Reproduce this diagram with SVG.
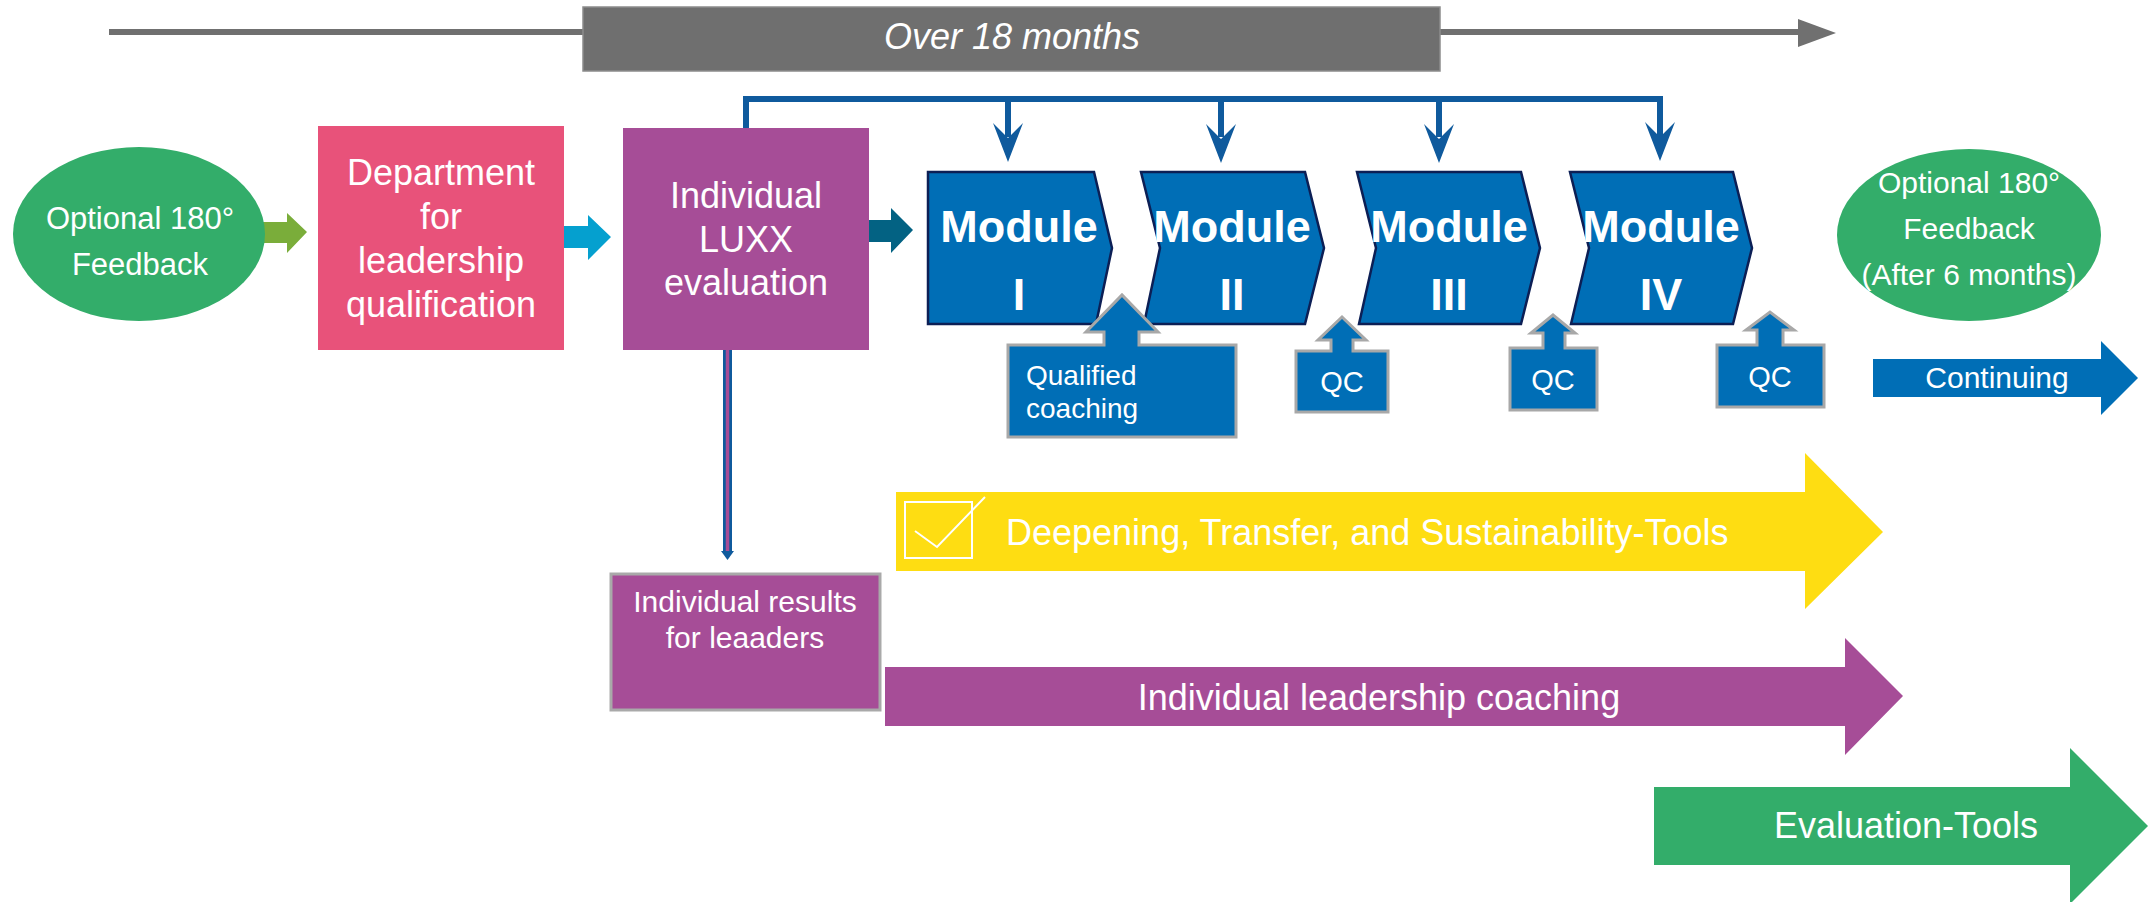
<svg xmlns="http://www.w3.org/2000/svg" width="2153" height="902" viewBox="0 0 2153 902">
<style>
text{font-family:"Liberation Sans",Arial,sans-serif;fill:#ffffff}
.c{text-anchor:middle}
.mod{fill:#006eb6;stroke:#0c1f55;stroke-width:2.5}
.mt{font-weight:bold;font-size:45px}
.call{fill:#006eb6;stroke:#a8a8a8;stroke-width:3}
.br{stroke:#0f5a9d;stroke-width:6;fill:none}
.ah{fill:#0f5a9d}
</style>
<rect width="2153" height="902" fill="#ffffff"/>

<g id="timeline">
<line x1="109" y1="32" x2="1800" y2="32" stroke="#707070" stroke-width="6"/>
<polygon points="1798,19 1836,33 1798,47" fill="#707070"/>
<rect x="583" y="7" width="857" height="64" fill="#6f6f6f" stroke="#8c8c8c" stroke-width="1.5"/>
<text x="1012" y="49" class="c" font-size="36" font-style="italic">Over 18 months</text>
</g>

<g id="connectors">
<polyline class="br" points="746,128 746,99 1660,99 1660,137"/>
<line class="br" x1="1008" y1="99" x2="1008" y2="137"/>
<line class="br" x1="1221" y1="99" x2="1221" y2="137"/>
<line class="br" x1="1439" y1="99" x2="1439" y2="137"/>
<polygon class="ah" points="993,123 1008,162 1023,123 1008,138"/>
<polygon class="ah" points="1206,124 1221,163 1236,124 1221,139"/>
<polygon class="ah" points="1424,124 1439,163 1454,124 1439,139"/>
<polygon class="ah" points="1645,122 1660,161 1675,122 1660,137"/>
<line x1="727.5" y1="350" x2="727.5" y2="553" stroke="#0f5a9d" stroke-width="9"/>
<line x1="727.5" y1="350" x2="727.5" y2="553" stroke="#a64d97" stroke-width="3.5"/>
<polygon points="721,551 734,551 727.5,560" fill="#0f5a9d"/>
<polygon points="249,222 287,222 287,213 307,232 287,253 287,243 249,243" fill="#7aad3a"/>
<polygon points="553,226 588,226 588,215 611,237 588,260 588,248 553,248" fill="#05a0cf"/>
<polygon points="855,220 891,220 891,208 913,230 891,253 891,242 855,242" fill="#036283"/>
</g>

<g id="feedback-start">
<ellipse cx="139" cy="234" rx="126" ry="87" fill="#33ad6a"/>
<text x="140" y="229" class="c" font-size="31">Optional 180°</text>
<text x="140" y="275" class="c" font-size="31">Feedback</text>
</g>

<g id="department">
<rect x="318" y="126" width="246" height="224" fill="#e8527a"/>
<text x="441" y="185" class="c" font-size="36">Department</text>
<text x="441" y="229" class="c" font-size="36">for</text>
<text x="441" y="273" class="c" font-size="36">leadership</text>
<text x="441" y="317" class="c" font-size="36">qualification</text>
</g>

<g id="luxx">
<rect x="623" y="128" width="246" height="222" fill="#a64d97"/>
<text x="746" y="208" class="c" font-size="36">Individual</text>
<text x="746" y="252" class="c" font-size="36">LUXX</text>
<text x="746" y="295" class="c" font-size="36">evaluation</text>
</g>

<g id="module1">
<polygon class="mod" points="928,172 1094,172 1112,248 1096,324 928,324"/>
<text x="1019" y="242" class="c mt">Module</text>
<text x="1019" y="310" class="c mt">I</text>
</g>
<g id="module2">
<polygon class="mod" points="1141,172 1305,172 1324,248 1305,324 1144,324 1160,248"/>
<text x="1232" y="242" class="c mt">Module</text>
<text x="1232" y="310" class="c mt">II</text>
</g>
<g id="module3">
<polygon class="mod" points="1357,172 1521,172 1540,248 1521,324 1359,324 1376,248"/>
<text x="1449" y="242" class="c mt">Module</text>
<text x="1449" y="310" class="c mt">III</text>
</g>
<g id="module4">
<polygon class="mod" points="1570,172 1733,172 1752,248 1733,324 1571,324 1589,248"/>
<text x="1661" y="242" class="c mt">Module</text>
<text x="1661" y="310" class="c mt">IV</text>
</g>

<g id="qualified-coaching">
<path class="call" d="M1008,345 H1104 V332 H1086 L1122,295 L1158,332 H1139 V345 H1236 V437 H1008 Z"/>
<text x="1026" y="385" font-size="28">Qualified</text>
<text x="1026" y="418" font-size="28">coaching</text>
</g>
<g id="qc1">
<path class="call" d="M1296,351 H1331 V340 H1318 L1342,317 L1366,340 H1353 V351 H1388 V412 H1296 Z"/>
<text x="1342" y="392" class="c" font-size="29">QC</text>
</g>
<g id="qc2">
<path class="call" d="M1510,348 H1543 V333 H1531 L1553,315 L1575,333 H1565 V348 H1597 V410 H1510 Z"/>
<text x="1553" y="390" class="c" font-size="29">QC</text>
</g>
<g id="qc3">
<path class="call" d="M1717,345 H1757 V330 H1746 L1770,312 L1794,330 H1783 V345 H1824 V407 H1717 Z"/>
<text x="1770" y="387" class="c" font-size="29">QC</text>
</g>

<g id="feedback-end">
<ellipse cx="1969" cy="235" rx="132" ry="86" fill="#33ad6a"/>
<text x="1969" y="193" class="c" font-size="30">Optional 180°</text>
<text x="1969" y="239" class="c" font-size="30">Feedback</text>
<text x="1969" y="285" class="c" font-size="30">(After 6 months)</text>
</g>

<g id="continuing">
<polygon points="1873,359 2101,359 2101,341 2138,378 2101,415 2101,397 1873,397" fill="#006eb6"/>
<text x="1997" y="388" class="c" font-size="30">Continuing</text>
</g>

<g id="deepening">
<polygon points="896,492 1805,492 1805,453 1883,532 1805,609 1805,571 896,571" fill="#fedd12"/>
<rect x="905" y="502" width="67" height="56" fill="none" stroke="#ffffff" stroke-width="2"/>
<polyline points="915,531 937,547 985,497" fill="none" stroke="#ffffff" stroke-width="2"/>
<text x="1006" y="545" font-size="36">Deepening, Transfer, and Sustainability-Tools</text>
</g>

<g id="results">
<rect x="611" y="574" width="269" height="136" fill="#a64d97" stroke="#a9a9a9" stroke-width="3"/>
<text x="745" y="612" class="c" font-size="30">Individual results</text>
<text x="745" y="648" class="c" font-size="30">for leaaders</text>
</g>

<g id="coaching">
<polygon points="885,667 1845,667 1845,638 1903,696 1845,755 1845,726 885,726" fill="#a64d97"/>
<text x="1379" y="710" class="c" font-size="36">Individual leadership coaching</text>
</g>

<g id="evaluation-tools">
<polygon points="1654,787 2070,787 2070,748 2148,826 2070,904 2070,865 1654,865" fill="#33ad6a"/>
<text x="1906" y="838" class="c" font-size="36">Evaluation-Tools</text>
</g>
</svg>
